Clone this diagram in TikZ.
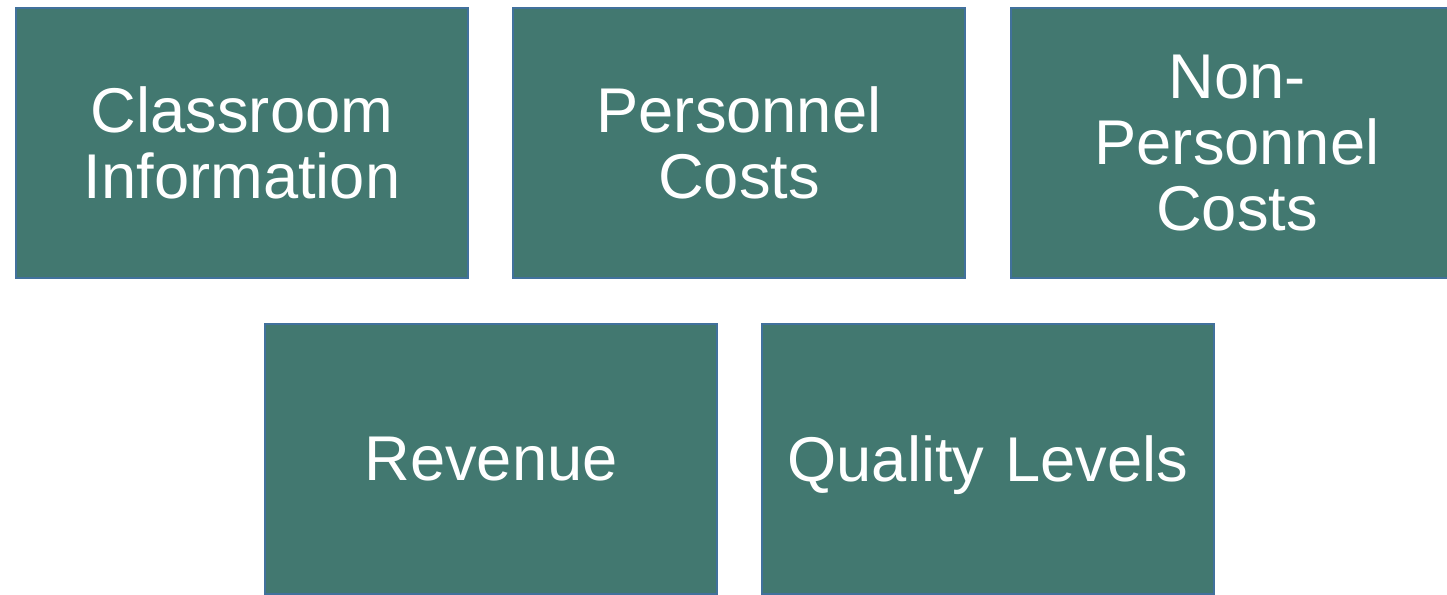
\documentclass[tikz,border=0pt]{standalone}
\usepackage{fontspec}
\setmainfont{Liberation Sans}
\definecolor{boxfill}{RGB}{66,120,112}
\definecolor{boxline}{RGB}{65,113,156}

\begin{document}
\begin{tikzpicture}[x=0.02cm, y=-0.02cm, topic/.style={rectangle, draw=boxline, fill=boxfill, line width=1.1pt, minimum width=9.04cm, minimum height=5.4cm, text width=8.5cm, align=center, text=white, font=\fontsize{36}{37.5}\selectfont}]
	\useasboundingbox (0,0) rectangle (1447,595);
	\node[topic] (classroom) at (242,143) {Classroom \\ Information};
	\node[topic] (personnel) at (739,143) {Personnel \\ Costs};
	\node[topic] (nonpers) at (1237,143) {Non- \\ Personnel \\ Costs};
	\node[topic] (revenue) at (491,459) {Revenue};
	\node[topic] (quality) at (988,459) {\rule{0pt}{33.5pt}Quality Levels};
\end{tikzpicture}
\end{document}
